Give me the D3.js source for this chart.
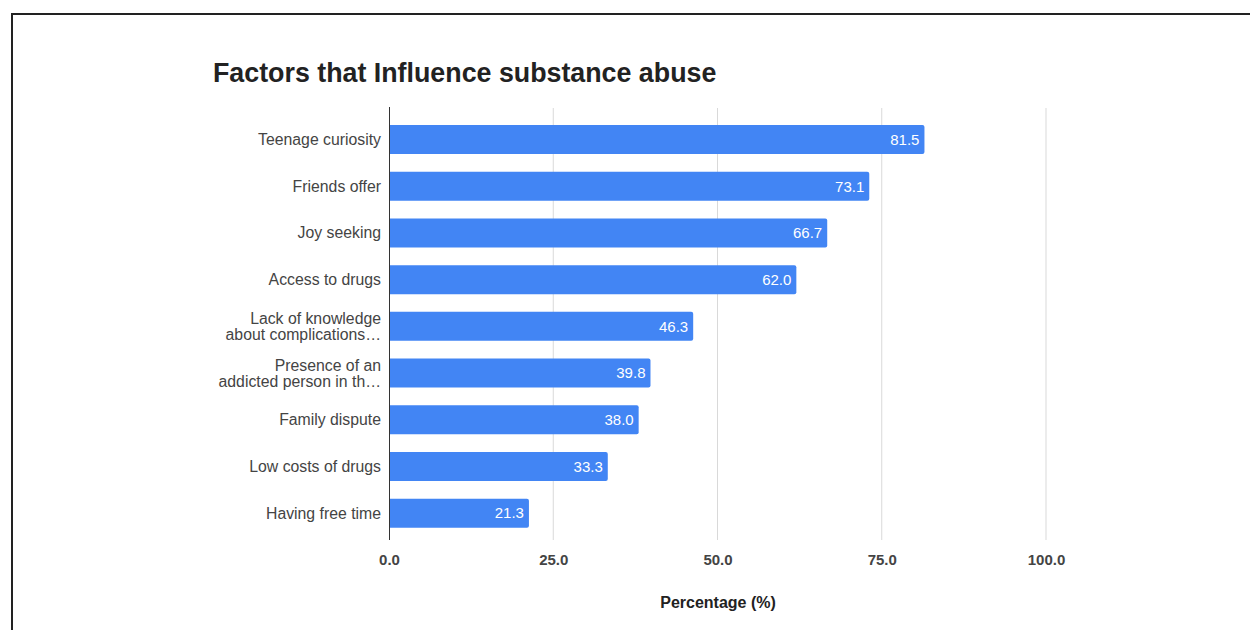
<!DOCTYPE html>
<html>
<head>
<meta charset="utf-8">
<script src="https://cdn.jsdelivr.net/npm/d3@7"></script>
<style>
  html, body { margin: 0; padding: 0; background: #fff; }
  svg { display: block; }
</style>
</head>
<body>
<svg id="chart" width="1250" height="630"></svg>
<script>
const categories = [
  ["Teenage curiosity"],
  ["Friends offer"],
  ["Joy seeking"],
  ["Access to drugs"],
  ["Lack of knowledge", "about complications\u2026"],
  ["Presence of an", "addicted person in th\u2026"],
  ["Family dispute"],
  ["Low costs of drugs"],
  ["Having free time"]
];
const values = [81.5, 73.1, 66.7, 62.0, 46.3, 39.8, 38.0, 33.3, 21.3];
const tickValues = [0, 25, 50, 75, 100];
const titleText = "Factors that Influence substance abuse";
const axisTitle = "Percentage (%)";

const svg = d3.select("#chart");
const font = "Liberation Sans, Arial, sans-serif";

// frame
svg.append("line").attr("x1", 12).attr("x2", 1250).attr("y1", 14).attr("y2", 14)
  .attr("stroke", "#222").attr("stroke-width", 2);
svg.append("line").attr("x1", 12).attr("x2", 12).attr("y1", 13).attr("y2", 630)
  .attr("stroke", "#222").attr("stroke-width", 2);

const x = d3.scaleLinear().domain([0, 100]).range([389, 1046]);
const idx = values.map((d, i) => i);
const y = d3.scaleBand().domain(idx).range([116.2, 536.5]).paddingInner(0.38).paddingOuter(0.19);

// gridlines
svg.append("g").selectAll("line").data(tickValues.slice(1)).join("line")
  .attr("x1", d => x(d)).attr("x2", d => x(d))
  .attr("y1", 108).attr("y2", 540)
  .attr("stroke", "#d9d9d9").attr("stroke-width", 1);

// bars
svg.append("g").selectAll("path").data(values).join("path")
  .attr("d", (d, i) => {
    const x0 = x(0), x1 = x(d), y0 = y(i), h = y.bandwidth(), r = 2;
    return `M${x0},${y0} H${x1 - r} Q${x1},${y0} ${x1},${y0 + r} V${y0 + h - r} Q${x1},${y0 + h} ${x1 - r},${y0 + h} H${x0} Z`;
  })
  .attr("fill", "#4285f4");

// value labels
svg.append("g").selectAll("text").data(values).join("text")
  .attr("x", d => x(d) - 5)
  .attr("y", (d, i) => y(i) + y.bandwidth() / 2)
  .attr("dy", "0.35em")
  .attr("text-anchor", "end")
  .attr("font-family", font).attr("font-size", 15)
  .attr("fill", "#fff")
  .text(d => d3.format(".1f")(d));

// axis line
svg.append("line").attr("x1", 389.5).attr("x2", 389.5).attr("y1", 107).attr("y2", 540)
  .attr("stroke", "#333").attr("stroke-width", 1);

// category labels
const cat = svg.append("g").selectAll("text").data(categories).join("text")
  .attr("text-anchor", "end")
  .attr("font-family", font).attr("font-size", 15.8)
  .attr("fill", "#444");
cat.each(function(lines, i) {
  const t = d3.select(this);
  const cy = y(i) + y.bandwidth() / 2;
  const n = lines.length;
  lines.forEach((ln, j) => {
    t.append("tspan").attr("x", 381)
      .attr("y", cy + (j - (n - 1) / 2) * 16)
      .attr("dy", "0.35em")
      .text(ln);
  });
});

// x tick labels
const xAxis = d3.axisBottom(x).tickValues(tickValues).tickFormat(d3.format(".1f")).tickSize(0).tickPadding(0);
const gx = svg.append("g").attr("transform", "translate(0,554)").call(xAxis);
gx.select(".domain").remove();
gx.selectAll("text").attr("font-family", font).attr("font-size", 15)
  .attr("font-weight", "bold").attr("fill", "#444");

// axis title
svg.append("text").attr("x", 718).attr("y", 608)
  .attr("text-anchor", "middle")
  .attr("font-family", font).attr("font-size", 16).attr("font-weight", "bold")
  .attr("fill", "#222").text(axisTitle);

// title
svg.append("text").attr("x", 213).attr("y", 82)
  .attr("font-family", font).attr("font-size", 26.8).attr("font-weight", "bold")
  .attr("fill", "#222").text(titleText);
</script>
</body>
</html>
